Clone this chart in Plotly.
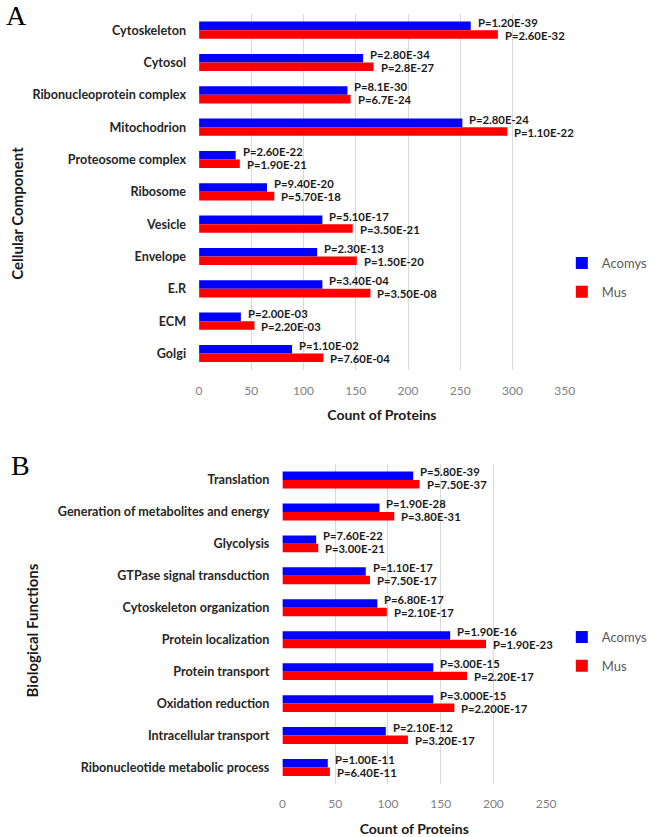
import plotly.graph_objects as go

# ---------------- Panel A data ----------------
cc_categories = ["Cytoskeleton", "Cytosol", "Ribonucleoprotein complex", "Mitochodrion",
                 "Proteosome complex", "Ribosome", "Vesicle", "Envelope", "E.R", "ECM", "Golgi"]
cc_acomys = [260, 157, 142, 252, 35, 65, 118, 113, 118, 40, 89]
cc_mus = [286, 167, 145, 295, 39, 72, 147, 151, 164, 53, 119]
cc_p_acomys = ["P=1.20E-39", "P=2.80E-34", "P=8.1E-30", "P=2.80E-24", "P=2.60E-22", "P=9.40E-20",
               "P=5.10E-17", "P=2.30E-13", "P=3.40E-04", "P=2.00E-03", "P=1.10E-02"]
cc_p_mus = ["P=2.60E-32", "P=2.8E-27", "P=6.7E-24", "P=1.10E-22", "P=1.90E-21", "P=5.70E-18",
            "P=3.50E-21", "P=1.50E-20", "P=3.50E-08", "P=2.20E-03", "P=7.60E-04"]
cc_ticks = [0, 50, 100, 150, 200, 250, 300, 350]

# ---------------- Panel B data ----------------
bf_categories = ["Translation", "Generation of metabolites and energy", "Glycolysis",
                 "GTPase signal transduction", "Cytoskeleton organization", "Protein localization",
                 "Protein transport", "Oxidation reduction", "Intracellular transport",
                 "Ribonucleotide metabolic process"]
bf_acomys = [124, 92, 32, 79, 90, 159, 143, 143, 98, 43]
bf_mus = [130, 106, 34, 83, 99, 193, 175, 163, 119, 45]
bf_p_acomys = ["P=5.80E-39", "P=1.90E-28", "P=7.60E-22", "P=1.10E-17", "P=6.80E-17", "P=1.90E-16",
               "P=3.00E-15", "P=3.000E-15", "P=2.10E-12", "P=1.00E-11"]
bf_p_mus = ["P=7.50E-37", "P=3.80E-31", "P=3.00E-21", "P=7.50E-17", "P=2.10E-17", "P=1.90E-23",
            "P=2.20E-17", "P=2.200E-17", "P=3.20E-17", "P=6.40E-11"]
bf_ticks = [0, 50, 100, 150, 200, 250]

series_names = ["Acomys", "Mus"]
BLUE = "#0000FF"
RED = "#FF0000"
FONT = "Lato"

W, H = 663, 837


def px(x):
    return x / W


def py(y):
    return 1 - y / H


fig = go.Figure()

fig.add_trace(go.Bar(y=cc_categories, x=cc_acomys, orientation="h", name=series_names[0],
                     marker=dict(color=BLUE, line=dict(width=0)), xaxis="x", yaxis="y",
                     legend="legend", legendgroup="a1"))
fig.add_trace(go.Bar(y=cc_categories, x=cc_mus, orientation="h", name=series_names[1],
                     marker=dict(color=RED, line=dict(width=0)), xaxis="x", yaxis="y",
                     legend="legend", legendgroup="a2"))
fig.add_trace(go.Bar(y=bf_categories, x=bf_acomys, orientation="h", name=series_names[0],
                     marker=dict(color=BLUE, line=dict(width=0)), xaxis="x2", yaxis="y2",
                     legend="legend2", legendgroup="b1"))
fig.add_trace(go.Bar(y=bf_categories, x=bf_mus, orientation="h", name=series_names[1],
                     marker=dict(color=RED, line=dict(width=0)), xaxis="x2", yaxis="y2",
                     legend="legend2", legendgroup="b2"))

annotations = []
lab_font = dict(family=FONT, size=11.3, color="#1a1a1a", weight="bold")
for cats, av, mv, ap, mp, xr, yr in [
    (cc_categories, cc_acomys, cc_mus, cc_p_acomys, cc_p_mus, "x", "y"),
    (bf_categories, bf_acomys, bf_mus, bf_p_acomys, bf_p_mus, "x2", "y2"),
]:
    for c, a, m, pa, pm in zip(cats, av, mv, ap, mp):
        annotations.append(dict(x=a, y=c, xref=xr, yref=yr, text=pa, showarrow=False,
                                xanchor="left", yanchor="middle", xshift=5, yshift=8, font=lab_font))
        annotations.append(dict(x=m, y=c, xref=xr, yref=yr, text=pm, showarrow=False,
                                xanchor="left", yanchor="middle", xshift=5, yshift=-5, font=lab_font))

ytitle_font = dict(family=FONT, size=15, color="#1a1a1a", weight="bold")
annotations += [
    dict(x=px(14), y=py(213), xref="paper", yref="paper", text="Cellular Component",
         textangle=-90, showarrow=False, xanchor="center", yanchor="middle", font=ytitle_font),
    dict(x=px(30), y=py(630), xref="paper", yref="paper", text="Biological Functions",
         textangle=-90, showarrow=False, xanchor="center", yanchor="middle", font=ytitle_font),
    dict(x=px(14), y=py(16), xref="paper", yref="paper", text="A", xanchor="center", yanchor="middle",
         showarrow=False, font=dict(family="Liberation Serif", size=28, color="black")),
    dict(x=px(18), y=py(465), xref="paper", yref="paper", text="B", xanchor="center", yanchor="middle",
         showarrow=False, font=dict(family="Liberation Serif", size=28, color="black")),
]

grid = "#d9d9d9"
tickfont = dict(family=FONT, size=12, color="#808080")
catfont = dict(family=FONT, size=12.6, color="#262626", weight="bold")
titlefont = dict(family=FONT, size=14, color="#1a1a1a", weight="bold")
legfont = dict(family=FONT, size=13, color="#595959")

fig.update_layout(
    width=W, height=H,
    margin=dict(l=0, r=0, t=0, b=0),
    paper_bgcolor="white", plot_bgcolor="white",
    barmode="group", bargap=0.47, bargroupgap=0,
    font=dict(family=FONT),
    xaxis=dict(domain=[px(200), px(573)], range=[0, 350], tickvals=cc_ticks, showgrid=True,
               gridcolor=grid, gridwidth=1, zeroline=False, showline=False, ticks="",
               tickfont=tickfont, anchor="y", ticklabelstandoff=12,
               title=dict(text="Count of Proteins", font=titlefont, standoff=13)),
    yaxis=dict(domain=[py(370), py(14)], categoryorder="array", categoryarray=cc_categories,
               autorange="reversed", showgrid=False, ticks="", tickfont=catfont,
               ticklabelstandoff=12, anchor="x", showline=False),
    xaxis2=dict(domain=[px(285), px(554)], range=[0, 250], tickvals=bf_ticks, showgrid=True,
                gridcolor=grid, gridwidth=1, zeroline=False, showline=False, ticks="",
                tickfont=tickfont, anchor="y2", ticklabelstandoff=11,
                title=dict(text="Count of Proteins", font=titlefont, standoff=14)),
    yaxis2=dict(domain=[py(784), py(464)], categoryorder="array", categoryarray=bf_categories,
                autorange="reversed", showgrid=False, ticks="", tickfont=catfont,
                ticklabelstandoff=12, anchor="x2", showline=False),
    legend=dict(x=px(570), y=py(248), xanchor="left", yanchor="top", bgcolor="rgba(0,0,0,0)",
                font=legfont, itemwidth=30, tracegroupgap=9, traceorder="grouped"),
    legend2=dict(x=px(570), y=py(622), xanchor="left", yanchor="top", bgcolor="rgba(0,0,0,0)",
                 font=legfont, itemwidth=30, tracegroupgap=9, traceorder="grouped"),
    annotations=annotations,
)

fig.write_html("out.html", config={"displayModeBar": False},
               post_script="document.body.style.margin='0';")
